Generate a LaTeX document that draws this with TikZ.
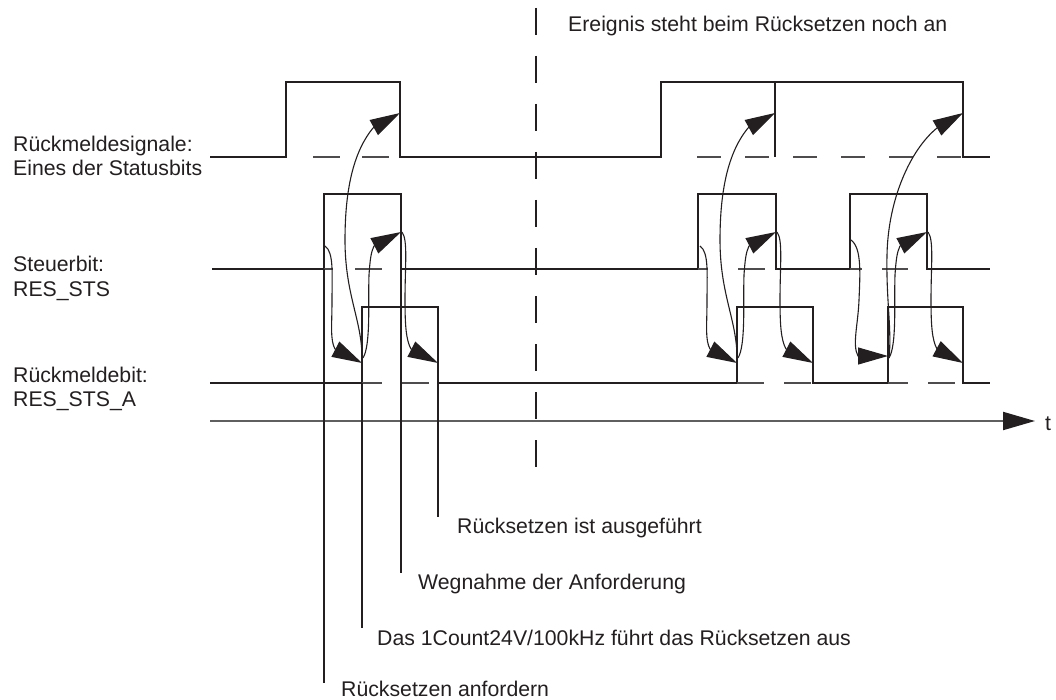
\documentclass[tikz,border=0pt]{standalone}
\usepackage{fontspec}
\setmainfont{Liberation Sans}
\usetikzlibrary{arrows.meta}
\definecolor{ink}{RGB}{35,31,32}
\definecolor{axisgray}{RGB}{95,95,95}
\tikzset{
  sig/.style={line width=2.8pt, draw=ink, line join=miter, line cap=butt},
  gapline/.style={line width=1.5pt, draw=ink!80},
  thinline/.style={line width=1.2pt, draw=ink},
  arr/.style={line width=1.1pt, draw=ink, -{Triangle[length=30pt,width=17pt,color=ink]}},
  lbl/.style={inner sep=0pt, anchor=base west, text=ink},
}
\begin{document}
\begin{tikzpicture}[x=1pt,y=-1pt,font=\fontsize{21.25}{25}\selectfont]
\useasboundingbox (0,0) rectangle (1056,700);

% ---------- key points ----------
\coordinate (s1fA) at (400,113);
\coordinate (s1fB) at (775,113);
\coordinate (s1fC) at (963,113);

% ---------- signal 1 ----------
\draw[sig] (210,157) -- (286,157) |- (400,82) |- (661,157) |- (963,82) |- (990,157);
\draw[sig] (775,82) -- (775,157);
\draw[gapline, dash pattern=on 27pt off 22pt] (313,157) -- (400,157);
\draw[gapline, dash pattern=on 24pt off 24pt] (697,157) -- (963,157);

% ---------- signal 2 ----------
\draw[sig] (212,269) -- (324,269) |- (401,194) |- (698,269) |- (776,194) |- (850,269) |- (927,194) |- (990,269);
\draw[gapline, dash pattern=on 27pt off 22pt, dash phase=18pt] (324,269) -- (401,269);
\draw[gapline, dash pattern=on 27pt off 30pt, dash phase=17pt] (698,269) -- (776,269);
\draw[gapline, dash pattern=on 26pt off 20pt, dash phase=14pt] (850,269) -- (927,269);

% ---------- signal 3 ----------
\draw[sig] (210,383) -- (362,383) |- (438,307) |- (737,383) |- (813,307) |- (888,383) |- (963,307) |- (990,383);
\draw[gapline, dash pattern=on 27pt off 20pt, dash phase=7pt] (362,383) -- (438,383);
\draw[gapline, dash pattern=on 27pt off 20pt] (737,383) -- (813,383);
\draw[gapline, dash pattern=on 27pt off 20pt, dash phase=7pt] (888,383) -- (963,383);

% ---------- time axis ----------
\coordinate (ax0) at (210,421);
\coordinate (ax1) at (1035,421);
\draw[line width=2pt, draw=axisgray, -{Triangle[length=32pt,width=18pt,color=ink]}] (ax0) -- (ax1);
\node[lbl] (t) at (1045,430) {t};

% ---------- event divider ----------
\draw[line width=1.3pt, draw=ink, dash pattern=on 27pt off 21pt] (536,8) -- (536,470);
\node[lbl] (event) at (568,32) {Ereignis steht beim Rücksetzen noch an};

% ---------- annotation lines ----------
\draw[thinline] (324,269) -- (324,683);
\draw[thinline] (362,383) -- (362,628);
\draw[thinline] (401,269) -- (401,573);
\draw[thinline] (438,383) -- (438,517);

\node[lbl] (n4) at (457,533) {Rücksetzen ist ausgeführt};
\node[lbl] (n3) at (418,589) {Wegnahme der Anforderung};
\node[lbl] (n2) at (377,645) {Das 1Count24V/100kHz führt das Rücksetzen aus};
\node[lbl] (n1) at (341,696) {Rücksetzen anfordern};

% ---------- left labels ----------
\node[lbl] (l1a) at (13,152) {Rückmeldesignale:};
\node[lbl] (l1b) at (13,176) {Eines der Statusbits};
\node[lbl] (l2a) at (13,272) {Steuerbit:};
\node[lbl] (l2b) at (13,296) {RES\_STS};
\node[lbl] (l3a) at (13,382) {Rückmeldebit:};
\node[lbl] (l3b) at (13,406) {RES\_STS\_A};

% ---------- cause/effect arrows: first cycle and its copy ----------
\foreach \dx in {0,375}{
  \begin{scope}[xshift=\dx pt]
    % request -> acknowledge rises
    \draw[arr] (325,246) .. controls (334,252) and (332,275) .. (332,300)
               .. controls (332,325) and (330,340) .. (335,349) -- (362,363);
    % acknowledge rises -> status bit falls
    \draw[arr] (362,358) .. controls (362,320) and (345,295) .. (345,240)
               .. controls (345,185) and (355,150) .. (373,128) -- (400,113);
    % acknowledge rises -> request removed
    \draw[arr] (363,358) .. controls (371,345) and (368,300) .. (369,275)
               .. controls (370,260) and (371,252) .. (374,246) -- (401,232);
    % request removed -> acknowledge falls
    \draw[arr] (402,232) .. controls (408,240) and (405,265) .. (405,300)
               .. controls (405,325) and (406,340) .. (411,349) -- (438,363);
  \end{scope}
}

% ---------- third cycle ----------
\draw[arr] (851,240) .. controls (862,248) and (860,275) .. (859,300)
           .. controls (858,325) and (852,345) .. (858,356) -- (888,356);
\draw[arr] (889,358) .. controls (892,330) and (886,300) .. (887,255)
           .. controls (888,200) and (910,150) .. (937,128) -- (s1fC);
\draw[arr] (889,358) .. controls (897,345) and (894,300) .. (895,275)
           .. controls (896,260) and (897,252) .. (900,246) -- (927,232);
\draw[arr] (928,232) .. controls (934,240) and (931,265) .. (931,300)
           .. controls (931,325) and (932,340) .. (937,349) -- (963,363);
\end{tikzpicture}
\end{document}
